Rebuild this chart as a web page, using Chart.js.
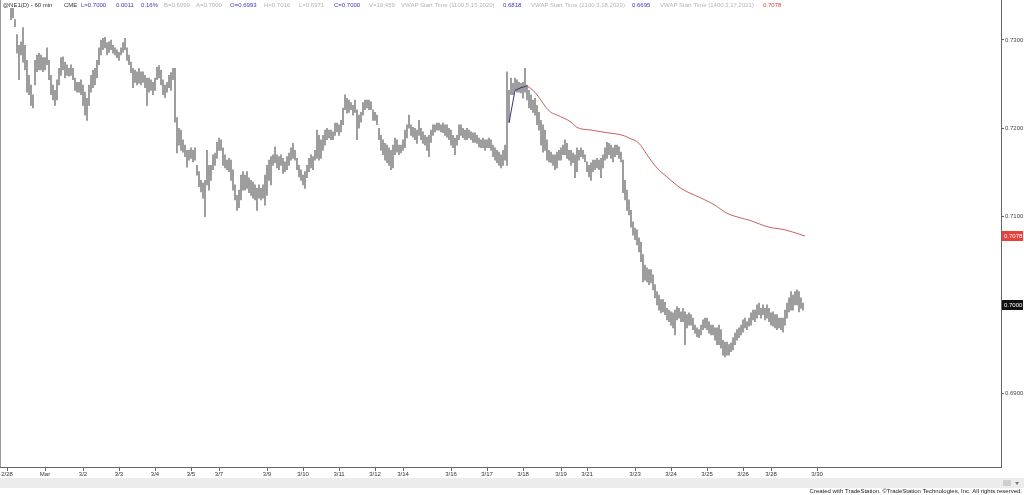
<!DOCTYPE html>
<html>
<head>
<meta charset="utf-8">
<script src="https://cdn.jsdelivr.net/npm/chart.js@4.4.0/dist/chart.umd.min.js"></script>
<style>
  html, body { margin: 0; padding: 0; background: #fff; }
  #wrap { width: 1024px; height: 495px; position: relative; }
</style>
</head>
<body>
<div id="wrap"><canvas id="chart" width="1024" height="495"></canvas></div>
<script>
// hourly bars, high / low (one bar per entry)
const highs = [
  0.7336,0.7336,0.7323,0.7306,0.7294,0.7298,0.7314,0.7294,0.7277,0.7260,0.7249,0.7238,0.7277,
  0.7283,0.7285,0.7283,0.7280,0.7280,0.7291,0.7277,0.7260,0.7249,0.7243,0.7255,0.7268,0.7280,
  0.7281,0.7275,0.7272,0.7268,0.7272,0.7268,0.7257,0.7252,0.7252,0.7255,0.7249,0.7241,0.7234,
  0.7249,0.7260,0.7266,0.7268,0.7277,0.7291,0.7300,0.7302,0.7303,0.7297,0.7298,0.7300,0.7294,
  0.7291,0.7289,0.7286,0.7291,0.7297,0.7302,0.7291,0.7283,0.7275,0.7268,0.7266,0.7264,0.7268,
  0.7264,0.7264,0.7260,0.7257,0.7257,0.7255,0.7252,0.7257,0.7269,0.7271,0.7266,0.7255,0.7249,
  0.7252,0.7260,0.7263,0.7268,0.7268,0.7212,0.7200,0.7198,0.7187,0.7181,0.7175,0.7175,0.7178,
  0.7175,0.7178,0.7158,0.7151,0.7141,0.7138,0.7141,0.7175,0.7158,0.7158,0.7170,0.7172,0.7184,
  0.7189,0.7187,0.7178,0.7170,0.7164,0.7166,0.7164,0.7153,0.7136,0.7124,0.7130,0.7147,0.7151,
  0.7147,0.7151,0.7144,0.7141,0.7139,0.7136,0.7132,0.7136,0.7132,0.7136,0.7147,0.7158,0.7164,
  0.7168,0.7170,0.7179,0.7170,0.7168,0.7170,0.7166,0.7162,0.7168,0.7172,0.7178,0.7183,0.7175,
  0.7166,0.7158,0.7153,0.7147,0.7151,0.7158,0.7166,0.7170,0.7168,0.7175,0.7198,0.7192,0.7187,
  0.7192,0.7198,0.7200,0.7198,0.7198,0.7196,0.7206,0.7206,0.7204,0.7209,0.7223,0.7238,0.7234,
  0.7232,0.7229,0.7226,0.7232,0.7221,0.7215,0.7218,0.7229,0.7232,0.7232,0.7232,0.7230,0.7221,
  0.7218,0.7215,0.7200,0.7192,0.7187,0.7183,0.7181,0.7178,0.7175,0.7181,0.7189,0.7187,0.7181,
  0.7181,0.7187,0.7198,0.7204,
  0.7215,0.7204,0.7201,0.7200,0.7198,0.7209,0.7200,0.7196,0.7192,0.7190,0.7192,0.7198,0.7204,
  0.7204,0.7206,0.7206,0.7204,0.7206,0.7204,0.7204,0.7200,0.7198,0.7192,0.7189,0.7192,0.7204,
  0.7204,0.7200,0.7198,0.7200,0.7198,0.7196,0.7195,0.7195,0.7192,0.7189,0.7187,0.7189,0.7187,
  0.7187,0.7189,0.7187,0.7181,0.7178,0.7175,0.7173,0.7170,0.7175,0.7181,0.7264,0.7243,0.7257,
  0.7251,0.7257,0.7255,0.7252,0.7251,0.7252,0.7268,0.7249,0.7243,0.7238,0.7232,0.7234,0.7226,
  0.7218,0.7209,0.7204,
  0.7198,0.7187,0.7175,0.7173,0.7170,0.7170,0.7173,0.7175,0.7178,0.7181,0.7187,0.7183,0.7175,
  0.7175,0.7172,0.7170,0.7178,0.7175,0.7178,0.7175,0.7170,0.7162,0.7158,0.7161,0.7164,0.7164,
  0.7166,0.7164,0.7166,0.7170,0.7178,0.7184,0.7183,0.7181,0.7178,0.7181,0.7181,0.7179,0.7173,
  0.7164,0.7141,0.7130,0.7119,0.7107,0.7094,0.7087,0.7085,0.7076,0.7071,0.7057,0.7045,0.7042,
  0.7040,0.7040,0.7034,0.7023,0.7015,0.7011,0.7006,0.7006,0.7003,0.6996,0.6994,0.6992,0.6991,
  0.6994,
  0.6998,0.6996,0.6992,0.6996,0.6992,0.6989,0.6991,0.6989,0.6985,0.6977,0.6974,0.6972,0.6977,
  0.6983,0.6985,0.6985,0.6981,0.6977,0.6977,0.6974,0.6974,0.6977,0.6972,0.6960,0.6958,0.6958,
  0.6955,0.6957,0.6963,0.6968,0.6972,0.6974,0.6977,0.6983,0.6985,0.6981,0.6985,0.6991,0.6994,
  0.6994,0.7000,0.7002,0.6996,0.7000,0.6996,0.7000,0.6996,0.6991,0.6992,0.6989,0.6989,0.6985,
  0.6985,0.6985,0.6994,0.7002,0.7008,0.7015,0.7011,0.7015,0.7017,0.7015,0.7008,0.7002
];
const lows = [
  0.7323,0.7325,0.7315,0.7285,0.7255,0.7283,0.7275,0.7266,0.7241,0.7238,0.7226,0.7223,0.7249,
  0.7264,0.7266,0.7266,0.7264,0.7266,0.7272,0.7255,0.7238,0.7232,0.7226,0.7232,0.7249,0.7260,
  0.7266,0.7257,0.7260,0.7259,0.7260,0.7255,0.7243,0.7241,0.7241,0.7238,0.7226,0.7215,0.7209,
  0.7226,0.7241,0.7246,0.7249,0.7257,0.7272,0.7283,0.7289,0.7291,0.7283,0.7286,0.7289,0.7285,
  0.7283,0.7280,0.7277,0.7283,0.7286,0.7289,0.7277,0.7272,0.7263,0.7246,0.7252,0.7249,0.7251,
  0.7249,0.7252,0.7246,0.7226,0.7241,0.7243,0.7238,0.7243,0.7255,0.7257,0.7249,0.7238,0.7235,
  0.7241,0.7246,0.7243,0.7255,0.7207,0.7172,0.7181,0.7175,0.7173,0.7168,0.7156,0.7164,0.7166,
  0.7162,0.7164,0.7147,0.7134,0.7128,0.7121,0.7100,0.7136,0.7130,0.7141,0.7153,0.7158,0.7166,
  0.7175,0.7175,0.7158,0.7155,0.7153,0.7151,0.7141,0.7130,0.7119,0.7107,0.7110,0.7119,0.7130,
  0.7130,0.7132,0.7127,0.7124,0.7121,0.7119,0.7107,0.7121,0.7119,0.7121,0.7113,0.7124,0.7141,
  0.7136,0.7158,0.7161,0.7155,0.7153,0.7158,0.7149,0.7151,0.7153,0.7158,0.7164,0.7166,0.7164,
  0.7153,0.7145,0.7141,0.7136,0.7132,0.7144,0.7151,0.7155,0.7153,0.7164,0.7166,0.7164,0.7166,
  0.7175,0.7181,0.7187,0.7189,0.7187,0.7187,0.7192,0.7196,0.7192,0.7196,0.7204,0.7221,0.7217,
  0.7218,0.7221,0.7215,0.7218,0.7187,0.7200,0.7207,0.7215,0.7221,0.7223,0.7221,0.7221,0.7209,
  0.7209,0.7204,0.7187,0.7175,0.7170,0.7164,0.7161,0.7158,0.7153,0.7155,0.7170,0.7173,0.7170,
  0.7172,0.7175,0.7178,0.7189,
  0.7200,0.7192,0.7190,0.7187,0.7183,0.7192,0.7187,0.7183,0.7181,0.7175,0.7168,0.7184,0.7192,
  0.7196,0.7198,0.7198,0.7196,0.7195,0.7192,0.7190,0.7187,0.7181,0.7178,0.7170,0.7181,0.7187,
  0.7192,0.7189,0.7187,0.7187,0.7189,0.7187,0.7184,0.7184,0.7183,0.7179,0.7178,0.7178,0.7175,
  0.7178,0.7178,0.7175,0.7168,0.7164,0.7161,0.7158,0.7155,0.7158,0.7164,0.7158,0.7207,0.7238,
  0.7238,0.7243,0.7241,0.7241,0.7240,0.7234,0.7241,0.7232,0.7223,0.7221,0.7218,0.7215,0.7204,
  0.7198,0.7181,0.7173,
  0.7175,0.7164,0.7162,0.7161,0.7158,0.7153,0.7155,0.7164,0.7164,0.7170,0.7170,0.7166,0.7164,
  0.7158,0.7161,0.7144,0.7151,0.7164,0.7168,0.7166,0.7162,0.7151,0.7145,0.7141,0.7151,0.7153,
  0.7155,0.7153,0.7144,0.7155,0.7164,0.7166,0.7170,0.7166,0.7162,0.7168,0.7170,0.7166,0.7162,
  0.7127,0.7119,0.7107,0.7102,0.7088,0.7079,0.7074,0.7068,0.7060,0.7049,0.7026,0.7028,0.7026,
  0.7023,0.7025,0.7017,0.7008,0.7000,0.6994,0.6991,0.6992,0.6989,0.6983,0.6981,0.6977,0.6974,
  0.6966,
  0.6983,0.6985,0.6981,0.6981,0.6955,0.6974,0.6977,0.6977,0.6972,0.6968,0.6964,0.6963,0.6966,
  0.6972,0.6974,0.6972,0.6968,0.6966,0.6966,0.6960,0.6955,0.6955,0.6951,0.6943,0.6941,0.6943,
  0.6943,0.6947,0.6949,0.6955,0.6960,0.6963,0.6966,0.6969,0.6974,0.6972,0.6976,0.6977,0.6983,
  0.6981,0.6985,0.6989,0.6985,0.6989,0.6983,0.6985,0.6981,0.6977,0.6976,0.6974,0.6972,0.6974,
  0.6972,0.6969,0.6977,0.6985,0.6992,0.6994,0.6994,0.7000,0.7000,0.6992,0.6996,0.6994
];

// VWAP (1400,3,17,2021) - red, and the anchor leg in blue (bar index / price)
const vwapIdx = [258,261,264,267,270,273,280,283,290,298,306,309,314,318,323,328,335,345,352,357,361,369,379,387,397];
const vwapVal = [0.7248,0.7243,0.7235,0.7225,0.7218,0.7215,0.7207,0.7201,0.7198,0.7195,0.7192,0.7189,0.7183,0.7170,
                 0.7155,0.7145,0.7132,0.7121,0.7113,0.7105,0.7101,0.7096,0.7088,0.7085,0.7078];
const anchorIdx = [249,252,255,258];
const anchorVal = [0.7206,0.7243,0.7246,0.7248];

// date ticks (bar index where the session starts)
const tickIdx = [-2,17,36,54,72,90,104,128,146,164,182,196,220,238,256,275,288,312,330,348,366,380,403];
const tickLabels = ['2/28','Mar','3/2','3/3','3/4','3/5','3/7','3/9','3/10','3/11','3/12','3/14',
                    '3/16','3/17','3/18','3/19','3/21','3/23','3/24','3/25','3/26','3/28','3/30'];
const priceTicks = [0.69,0.70,0.71,0.72,0.73];
const lastPrice = 0.7000;
const vwapLast = 0.7078;

if (highs.length !== lows.length) console.warn('bar arrays differ', highs.length, lows.length);

const FONT = 'Liberation Sans, Arial, sans-serif';
Chart.defaults.font.family = FONT;
Chart.defaults.font.size = 6;

// header strip, price boxes and footer
const decor = {
  id: 'decor',
  afterDraw(chart) {
    const c = chart.ctx;
    const y = chart.scales.y;
    const area = chart.chartArea;
    c.save();
    // left frame line
    c.strokeStyle = '#9a9a9a';
    c.lineWidth = 1;
    c.beginPath(); c.moveTo(0.5, 0); c.lineTo(0.5, area.bottom); c.stroke();

    // header
    const blue = '#3a3ab8', grey = '#b4b4b4', dark = '#333';
    const head = [
      [3,'@NE1(D) - 60 min',dark],[64,'CME',dark],[81,'L=0.7000',blue],[116,'0.0011',blue],
      [141,'0.16%',blue],[164,'B=0.6999',grey],[196,'A=0.7000',grey],[230,'O=0.6993',blue],
      [264,'H=0.7016',grey],[299,'L=0.6971',grey],[334,'C=0.7000',blue],[369,'V=19,459',grey],
      [401,'VWAP Start Time (1100,5,15,2020)',grey],[503,'0.6818',blue],
      [531,'VWAP Start Time (2100,3,18,2020)',grey],[632,'0.6695',blue],
      [660,'VWAP Start Time (1400,3,17,2021)',grey],[763,'0.7078','#e03a3a']
    ];
    c.font = '6px ' + FONT;
    c.textBaseline = 'middle';
    c.textAlign = 'left';
    head.forEach(([x, t, col]) => { c.fillStyle = col; c.fillText(t, x, 5); });

    // current price / vwap boxes on the axis
    const box = (v, bg) => {
      const py = Math.round(y.getPixelForValue(v));
      c.fillStyle = bg;
      c.fillRect(area.right + 1, py - 5, 21, 10);
      c.fillStyle = '#fff';
      c.fillText(v.toFixed(4), area.right + 3, py + 0.5);
    };
    box(vwapLast, '#e8403a');
    box(lastPrice, '#111');

    // footer band and credit
    c.fillStyle = '#ececec';
    c.fillRect(0, 478, 1024, 10);
    c.fillStyle = '#cfcfcf';
    c.fillRect(1003, 480, 8, 6);
    c.fillStyle = '#777';
    c.beginPath(); c.moveTo(1015, 482); c.lineTo(1019, 482); c.lineTo(1017, 485); c.fill();
    c.fillStyle = '#222';
    c.textAlign = 'right';
    c.fillText('Created with TradeStation. \u00A9TradeStation Technologies, Inc. All rights reserved.', 1022, 491);
    c.restore();
  }
};

new Chart(document.getElementById('chart'), {
  type: 'bar',
  data: {
    datasets: [
      {
        type: 'line',
        data: anchorIdx.map((x, i) => ({ x, y: anchorVal[i] })),
        borderColor: '#34367a',
        borderWidth: 1,
        pointRadius: 0,
        order: 0
      },
      {
        type: 'line',
        data: vwapIdx.map((x, i) => ({ x, y: vwapVal[i] })),
        borderColor: 'rgba(192,70,70,0.85)',
        borderWidth: 1,
        pointRadius: 0,
        cubicInterpolationMode: 'monotone',
        order: 0
      },
      {
        type: 'bar',
        data: highs.map((h, i) => ({ x: i, y: [lows[i], h] })),
        backgroundColor: '#8a8a8a',
        borderWidth: 0,
        barThickness: 1,
        order: 1
      }
    ]
  },
  options: {
    responsive: false,
    animation: false,
    devicePixelRatio: 1,
    layout: { padding: 0, autoPadding: false },
    plugins: { legend: { display: false }, tooltip: { enabled: false } },
    scales: {
      x: {
        type: 'linear',
        offset: false,
        min: -5.5,
        max: 495,
        afterBuildTicks: s => { s.ticks = tickIdx.map(v => ({ value: v })); },
        afterFit: s => { s.height = 28; s.paddingLeft = 0; s.paddingRight = 0; },
        grid: { drawOnChartArea: false, offset: false, color: '#666', tickLength: 4 },
        border: { color: '#666' },
        ticks: {
          autoSkip: false,
          maxRotation: 0,
          padding: 0,
          color: '#333',
          font: { size: 6 },
          callback: v => { const k = tickIdx.indexOf(v); return k >= 0 ? tickLabels[k] : ''; }
        }
      },
      y: {
        position: 'right',
        min: 0.68164,
        max: 0.73453,
        afterBuildTicks: s => { s.ticks = priceTicks.map(v => ({ value: v })); },
        afterFit: s => { s.width = 23; s.paddingTop = 0; s.paddingBottom = 0; },
        grid: { drawOnChartArea: false, color: '#666', tickLength: 3 },
        border: { color: '#666' },
        ticks: {
          padding: 1,
          color: '#444',
          font: { size: 6 },
          callback: v => v.toFixed(4)
        }
      }
    }
  },
  plugins: [decor]
});
</script>
</body>
</html>
